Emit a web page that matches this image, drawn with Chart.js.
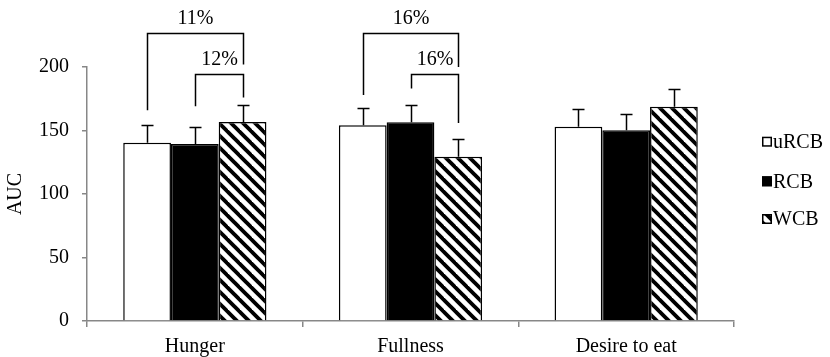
<!DOCTYPE html>
<html><head><meta charset="utf-8">
<script src="https://cdn.jsdelivr.net/npm/chart.js@4"></script>
<style>html,body{margin:0;padding:0;background:#fff}canvas{display:block}</style>
</head><body>
<canvas id="c" width="830" height="357"></canvas>
<script>
// ---- data ----
const categories = ['Hunger', 'Fullness', 'Desire to eat'];
const seriesNames = ['uRCB', 'RCB', 'WCB'];
const uRCB = [140.4, 154.1, 153.0];
const RCB = [139.4, 156.4, 150.1];
const WCB = [156.7, 129.4, 168.7];
const uRCB_err = [13.9, 13.6, 14.2];
const RCB_err = [13.4, 13.4, 13.2];
const WCB_err = [13.6, 13.7, 14.0];
const yTicks = [0, 50, 100, 150, 200];
// significance brackets (value units)
const bracketCat = [0, 0, 1, 1];
const bracketFrom = [0, 1, 0, 1];
const bracketTo = [2, 2, 2, 2];
const bracketTop = [227, 194.5, 226.5, 194.5];
const bracketLeftEnd = [166, 169, 178, 183];
const bracketRightEnd = [202, 176, 200, 156];
const bracketLabels = ['11%', '12%', '16%', '16%'];

const FONT = "'Liberation Serif', 'Times New Roman', serif";
const AXIS = '#878787';

function makeHatch() {
  const t = document.createElement('canvas');
  t.width = 12; t.height = 12;
  const g = t.getContext('2d');
  g.fillStyle = '#fff'; g.fillRect(0, 0, 12, 12);
  g.strokeStyle = '#000'; g.lineWidth = 3.8;
  for (let k = -1; k <= 1; k++) {
    g.beginPath();
    g.moveTo(k * 12 - 2, -2);
    g.lineTo(k * 12 + 14, 14);
    g.stroke();
  }
  return document.getElementById('c').getContext('2d').createPattern(t, 'repeat');
}
const hatch = makeHatch();
const errs = [uRCB_err, RCB_err, WCB_err];

const overlay = {
  id: 'overlay',
  afterDraw(chart) {
    const ctx = chart.ctx, ys = chart.scales.y;
    ctx.save();
    ctx.strokeStyle = '#000';
    ctx.lineWidth = 1.5;
    // error bars
    errs.forEach((arr, di) => {
      const meta = chart.getDatasetMeta(di);
      meta.data.forEach((bar, i) => {
        const v = chart.data.datasets[di].data[i];
        const x = Math.round(bar.x) + 0.5;
        const y0 = ys.getPixelForValue(v);
        const y1 = Math.round(ys.getPixelForValue(v + arr[i])) + 0.5;
        ctx.beginPath();
        ctx.moveTo(x, y0); ctx.lineTo(x, y1);
        ctx.moveTo(x - 6, y1); ctx.lineTo(x + 6, y1);
        ctx.stroke();
      });
    });
    // brackets
    ctx.font = '20px ' + FONT;
    ctx.fillStyle = '#000';
    ctx.textAlign = 'center';
    ctx.textBaseline = 'middle';
    bracketCat.forEach((c, k) => {
      const xl = Math.round(chart.getDatasetMeta(bracketFrom[k]).data[c].x) + 0.5;
      const xr = Math.round(chart.getDatasetMeta(bracketTo[k]).data[c].x) + 0.5;
      const yt = Math.round(ys.getPixelForValue(bracketTop[k])) + 0.5;
      ctx.beginPath();
      ctx.moveTo(xl, ys.getPixelForValue(bracketLeftEnd[k]));
      ctx.lineTo(xl, yt);
      ctx.lineTo(xr, yt);
      ctx.lineTo(xr, ys.getPixelForValue(bracketRightEnd[k]));
      ctx.stroke();
      ctx.fillText(bracketLabels[k], (xl + xr) / 2, yt - 15);
    });
    // legend
    const lx = 762, ly = [141.7, 181.3, 219];
    const fills = ['#fff', '#000', hatch];
    ctx.textAlign = 'left';
    seriesNames.forEach((n, i) => {
      ctx.fillStyle = fills[i];
      ctx.fillRect(lx, ly[i] - 5, 10, 10);
      ctx.lineWidth = 1.5;
      ctx.strokeStyle = '#000';
      ctx.strokeRect(lx + 0.75, ly[i] - 4.25, 8.5, 8.5);
      ctx.fillStyle = '#000';
      ctx.fillText(n, lx + 11, ly[i] + 1);
    });
    ctx.restore();
  }
};

new Chart(document.getElementById('c'), {
  type: 'bar',
  data: {
    labels: categories,
    datasets: [
      { label: seriesNames[0], data: uRCB, backgroundColor: '#fff', borderColor: '#000', borderWidth: 1.5 },
      { label: seriesNames[1], data: RCB, backgroundColor: '#000', borderColor: '#000', borderWidth: 1.5 },
      { label: seriesNames[2], data: WCB, backgroundColor: hatch, borderColor: '#000', borderWidth: 1.5 }
    ]
  },
  options: {
    responsive: false,
    animation: false,
    devicePixelRatio: 1,
    layout: { padding: { left: 0, top: 67, right: 96, bottom: 0 } },
    datasets: { bar: { categoryPercentage: 0.664, barPercentage: 1 } },
    plugins: { legend: { display: false }, tooltip: { enabled: false } },
    scales: {
      x: {
        afterFit(s) { s.height = 36; },
        grid: { display: true, drawOnChartArea: false, drawTicks: true, tickLength: 6, color: AXIS, lineWidth: 1.5, offset: true },
        border: { display: true, color: AXIS, width: 1.5 },
        ticks: { color: '#000', font: { family: FONT, size: 20 }, padding: 8 }
      },
      y: {
        min: 0, max: 200,
        afterFit(s) { s.width = 87; },
        afterBuildTicks(s) { s.ticks = yTicks.map(v => ({ value: v })); },
        grid: { display: true, drawOnChartArea: false, drawTicks: true, tickLength: 5, color: AXIS, lineWidth: 1.5 },
        border: { display: true, color: AXIS, width: 1.5 },
        ticks: { color: '#000', font: { family: FONT, size: 20 }, padding: 13 },
        title: { display: true, text: 'AUC', color: '#000', font: { family: FONT, size: 20 }, padding: { top: 4, bottom: 0 } }
      }
    }
  },
  plugins: [overlay]
});
</script>
</body></html>
